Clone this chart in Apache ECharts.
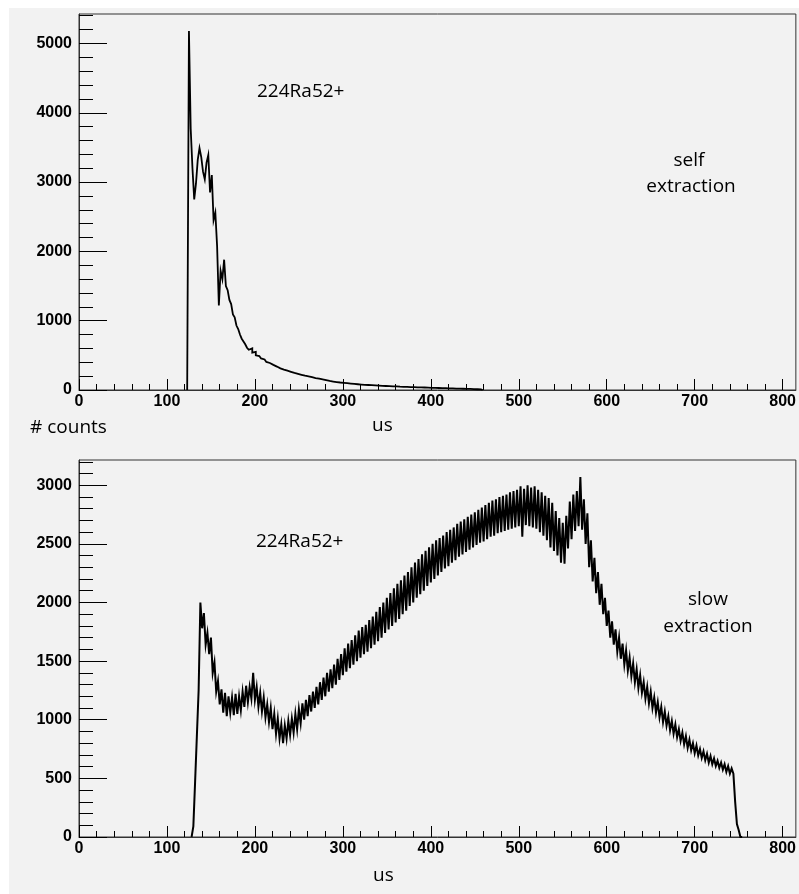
<!DOCTYPE html>
<html>
<head>
<meta charset="utf-8">
<script src="https://cdn.jsdelivr.net/npm/echarts@6/dist/echarts.min.js"></script>
<style>
  html, body { margin: 0; padding: 0; background: #fff; }
  #panel { position: absolute; left: 9px; top: 8px; width: 790px; height: 886px; background: #f2f2f2; }
  #chart { position: absolute; left: 0; top: 0; width: 799px; height: 894px; }
</style>
</head>
<body>
<div id="panel"></div>
<div id="chart"></div>
<script>
// ---- axis ticks ----
const timeTicks = [0, 100, 200, 300, 400, 500, 600, 700, 800];
const selfCountTicks = [0, 1000, 2000, 3000, 4000, 5000];
const slowCountTicks = [0, 500, 1000, 1500, 2000, 2500, 3000];
const timeMax = 815;
const selfCountMax = 5425;
const slowCountMax = 3215;

// ---- histograms: 2 us bins, counts per bin ----
const binWidth = 2;

// self extraction, first bin starts at 123 us
const selfStart = 123;
const selfCounts = [
  0, 5180, 3770, 3200, 2750, 2980, 3320, 3490, 3360, 3150,
  3040, 3280, 3390, 2850, 3100, 2450, 2560, 2080, 1220, 1720,
  1600, 1880, 1500, 1440, 1300, 1240, 1090, 1050, 930, 880,
  800, 740, 700, 660, 610, 580, 600, 540, 550, 500,
  490, 470, 455, 440, 420, 405, 390, 372, 362, 345,
  338, 325, 312, 302, 294, 283, 278, 268, 262, 254,
  246, 238, 232, 226, 219, 214, 206, 201, 196, 190,
  184, 180, 172, 168, 163, 156, 152, 146, 141, 137,
  130, 128, 122, 119, 115, 112, 108, 104, 104, 97,
  99, 91, 93, 86, 88, 82, 83, 78, 79, 74,
  75, 71, 72, 68, 69, 65, 66, 62, 63, 59,
  60, 57, 58, 54, 55, 51, 52, 50, 52, 47,
  48, 45, 46, 43, 44, 41, 42, 40, 41, 38,
  39, 37, 38, 35, 36, 33, 34, 31, 32, 30,
  30, 28, 29, 27, 27, 25, 26, 24, 24, 22,
  22, 20, 21, 19, 19, 17, 18, 16, 16, 14,
  15, 13, 13, 12, 11, 10, 9, 0
];

// slow extraction, first bin starts at 128 us
const slowStart = 128;
const slowCounts = [
  0, 90, 470, 860, 1250, 2000, 1780, 1910, 1640, 1740,
  1560, 1700, 1400, 1490, 1240, 1330, 1130, 1260, 1060, 1230,
  1030, 1200, 1060, 1190, 1040, 1220, 1050, 1200, 1080, 1240,
  1110, 1290, 1150, 1280, 1180, 1400, 1170, 1280, 1110, 1230,
  1070, 1190, 1020, 1130, 980, 1100, 920, 1050, 880, 1010,
  840, 960, 800, 950, 840, 990, 870, 1010, 890, 1050,
  920, 1090, 970, 1140, 1000, 1170, 1030, 1210, 1070, 1240,
  1100, 1280, 1130, 1320, 1170, 1360, 1200, 1400, 1240, 1430,
  1270, 1470, 1300, 1520, 1340, 1560, 1380, 1610, 1410, 1650,
  1440, 1680, 1470, 1720, 1500, 1760, 1530, 1790, 1560, 1810,
  1580, 1850, 1610, 1880, 1640, 1920, 1670, 1960, 1700, 2000,
  1740, 2040, 1770, 2080, 1800, 2120, 1830, 2160, 1860, 2190,
  1900, 2230, 1930, 2260, 1970, 2300, 2000, 2340, 2040, 2370,
  2070, 2410, 2100, 2440, 2140, 2470, 2170, 2500, 2200, 2530,
  2230, 2550, 2260, 2570, 2290, 2600, 2310, 2620, 2340, 2640,
  2360, 2670, 2390, 2690, 2410, 2710, 2430, 2730, 2450, 2750,
  2470, 2770, 2490, 2790, 2510, 2810, 2520, 2830, 2540, 2850,
  2560, 2870, 2570, 2880, 2590, 2900, 2600, 2910, 2610, 2920,
  2620, 2940, 2630, 2950, 2640, 2960, 2650, 2990, 2560, 2970,
  2660, 3000, 2650, 2980, 2640, 2990, 2630, 2960, 2600, 2940,
  2570, 2910, 2530, 2890, 2470, 2850, 2440, 2780, 2400, 2720,
  2340, 2680, 2330, 2740, 2460, 2860, 2540, 2920, 2610, 2950,
  2650, 3070, 2620, 2880, 2500, 2760, 2300, 2530, 2180, 2380,
  2080, 2260, 1980, 2160, 1900, 2040, 1800, 1930, 1700, 1840,
  1640, 1770, 1580, 1700, 1520, 1650, 1470, 1590, 1420, 1530,
  1370, 1480, 1320, 1430, 1270, 1380, 1230, 1320, 1180, 1280,
  1140, 1240, 1100, 1190, 1060, 1150, 1020, 1110, 980, 1070,
  950, 1030, 910, 990, 880, 960, 850, 920, 820, 890,
  790, 860, 760, 830, 740, 800, 715, 780, 695, 750,
  675, 730, 655, 710, 635, 690, 620, 670, 605, 650,
  590, 635, 575, 620, 555, 605, 540, 585, 540, 300,
  110, 60, 0
];

// Histogram outline: each bin is a flat top spanning its edges,
// neighbouring bins joined by vertical steps.
function histOutline(start, counts) {
  const pts = [];
  counts.forEach((c, i) => {
    pts.push([start + i * binWidth, c]);
    pts.push([start + (i + 1) * binWidth, c]);
  });
  return pts;
}
const selfData = histOutline(selfStart, selfCounts);
const slowData = histOutline(slowStart, slowCounts);

function minorValues(step, max, majors) {
  const out = [];
  for (let v = step; v <= max; v += step) {
    if (!majors.includes(v)) out.push(v);
  }
  return out;
}

const tickFont = {
  fontFamily: '"Liberation Sans", Arial, sans-serif', fontWeight: 'bold', fontSize: 16, color: '#000',
  formatter: (v) => String(v)
};
const lineColor = '#333';

function majorX(grid) {
  return {
    type: 'value', gridIndex: grid, position: 'bottom', min: 0, max: timeMax,
    axisLine: { show: true, onZero: false, lineStyle: { color: lineColor, width: 1 } },
    axisTick: { show: true, inside: true, length: 11, customValues: timeTicks, lineStyle: { color: '#000' } },
    axisLabel: { show: true, margin: 4, customValues: timeTicks, ...tickFont },
    splitLine: { show: false }
  };
}
function minorX(grid) {
  return {
    type: 'value', gridIndex: grid, position: 'bottom', min: 0, max: timeMax,
    axisLine: { show: false },
    axisTick: { show: true, inside: true, length: 6, customValues: minorValues(20, 800, timeTicks), lineStyle: { color: '#000' } },
    axisLabel: { show: false },
    splitLine: { show: false }
  };
}
function majorY(grid, max, ticks) {
  return {
    type: 'value', gridIndex: grid, position: 'left', min: 0, max: max,
    axisLine: { show: true, onZero: false, lineStyle: { color: lineColor, width: 1 } },
    axisTick: { show: true, inside: true, length: 28, customValues: ticks, lineStyle: { color: '#000' } },
    axisLabel: { show: true, margin: 7, customValues: ticks, ...tickFont },
    splitLine: { show: false }
  };
}
function minorY(grid, max, step, ticks) {
  return {
    type: 'value', gridIndex: grid, position: 'left', min: 0, max: max,
    axisLine: { show: false },
    axisTick: { show: true, inside: true, length: 14, customValues: minorValues(step, max, ticks), lineStyle: { color: '#000' } },
    axisLabel: { show: false },
    splitLine: { show: false }
  };
}

const textFont = '19px "Open Sans", "Noto Sans", sans-serif';
function label(text, x, y, align) {
  return {
    type: 'text', x: x, y: y, z: 10,
    style: { text: text, font: textFont, fill: '#000', align: align, verticalAlign: 'middle', textAlign: align, textVerticalAlign: 'middle' }
  };
}

const chart = echarts.init(document.getElementById('chart'), null, { renderer: 'canvas' });
chart.setOption({
  backgroundColor: 'transparent',
  animation: false,
  grid: [
    { left: 79, top: 14, right: -3, height: 376, show: true, borderColor: lineColor, borderWidth: 1, backgroundColor: 'transparent' },
    { left: 79, top: 460, right: -3, height: 377, show: true, borderColor: lineColor, borderWidth: 1, backgroundColor: 'transparent' }
  ],
  xAxis: [majorX(0), minorX(0), majorX(1), minorX(1)],
  yAxis: [
    majorY(0, selfCountMax, selfCountTicks), minorY(0, selfCountMax, 200, selfCountTicks),
    majorY(1, slowCountMax, slowCountTicks), minorY(1, slowCountMax, 100, slowCountTicks)
  ],
  series: [
    {
      type: 'line', name: 'self extraction', xAxisIndex: 0, yAxisIndex: 0,
      data: selfData, showSymbol: false, symbol: 'none',
      lineStyle: { color: '#000', width: 1.8, join: 'miter' }, silent: true
    },
    {
      type: 'line', name: 'slow extraction', xAxisIndex: 2, yAxisIndex: 2,
      data: slowData, showSymbol: false, symbol: 'none',
      lineStyle: { color: '#000', width: 2, join: 'miter' }, silent: true
    }
  ],
  graphic: [
    label('224Ra52+', 257, 92, 'left'),
    label('self', 689, 161, 'center'),
    label('extraction', 691, 187, 'center'),
    label('# counts', 30, 428, 'left'),
    label('us', 372, 426, 'left'),
    label('224Ra52+', 256, 542, 'left'),
    label('slow', 708, 600, 'center'),
    label('extraction', 708, 627, 'center'),
    label('us', 373, 876, 'left')
  ]
});
</script>
</body>
</html>
